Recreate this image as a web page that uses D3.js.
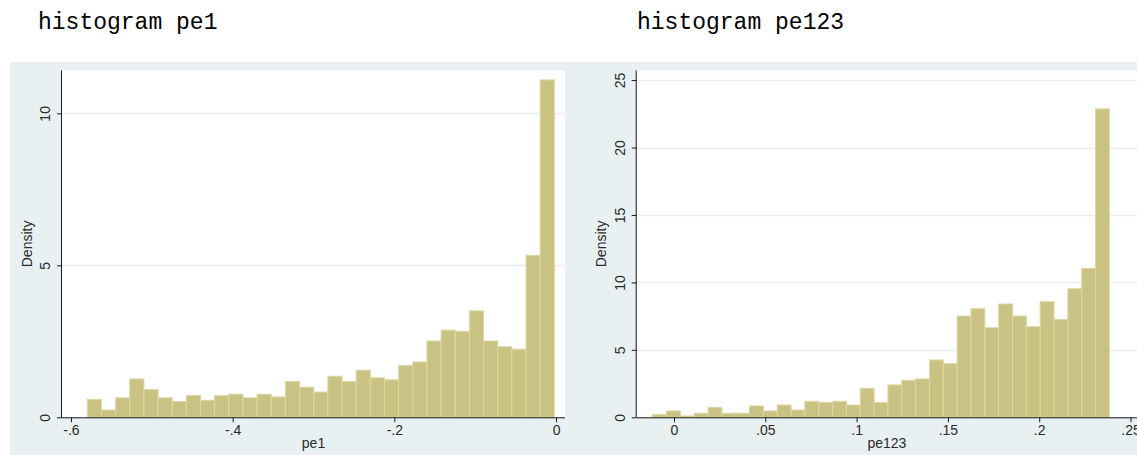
<!DOCTYPE html>
<html>
<head>
<meta charset="utf-8">
<script src="https://cdn.jsdelivr.net/npm/d3@7"></script>
<style>
  html, body { margin: 0; padding: 0; background: #ffffff; }
  svg { display: block; }
</style>
</head>
<body>
<svg id="chart" width="1137" height="455"></svg>
<script>
// ---------------- data ----------------
const titles = ["histogram pe1", "histogram pe123"];
const xTitles = ["pe1", "pe123"];
const yTitle = "Density";

// left histogram (pe1)
const pe1BinStart = -0.5798;
const pe1BinWidth = 0.017506;
const pe1Density = [0.59, 0.24, 0.64, 1.26, 0.91, 0.64, 0.52, 0.72, 0.56, 0.71,
                    0.76, 0.64, 0.76, 0.67, 1.18, 0.99, 0.83, 1.35, 1.18, 1.55,
                    1.30, 1.23, 1.70, 1.82, 2.51, 2.87, 2.83, 3.50, 2.51, 2.32,
                    2.24, 5.33, 11.10];
const pe1XTicks = [-0.6, -0.4, -0.2, 0];
const pe1XTickLabels = ["-.6", "-.4", "-.2", "0"];
const pe1YTicks = [0, 5, 10];
const pe1YTickLabels = ["0", "5", "10"];

// right histogram (pe123)
const pe123BinStart = -0.01166;
const pe123BinWidth = 0.007578;
const pe123Density = [0.20, 0.47, 0.10, 0.30, 0.74, 0.30, 0.30, 0.84, 0.47, 0.91,
                      0.54, 1.19, 1.11, 1.19, 0.91, 2.15, 1.09, 2.40, 2.74, 2.84,
                      4.25, 3.98, 7.51, 8.05, 6.64, 8.40, 7.51, 6.72, 8.57, 7.26,
                      9.53, 11.04, 22.86];
const pe123XTicks = [0, 0.05, 0.1, 0.15, 0.2, 0.25];
const pe123XTickLabels = ["0", ".05", ".1", ".15", ".2", ".25"];
const pe123YTicks = [0, 5, 10, 15, 20, 25];
const pe123YTickLabels = ["0", "5", "10", "15", "20", "25"];

// ---------------- style ----------------
const BG = "#e9f0f2";
const BAR = "#cac282";
const BAR_EDGE = "#dcd7a6";
const GRID = "#e6eef0";
const AXIS = "#1a1a1a";
const TEXT = "#2a2a2a";
const SANS = "'Liberation Sans', Arial, sans-serif";
const MONO = "'Liberation Mono', 'Courier New', monospace";

const svg = d3.select("#chart");

// background panels
svg.append("rect").attr("x", 10).attr("y", 62).attr("width", 560).attr("height", 393).attr("fill", BG);
svg.append("rect").attr("x", 570).attr("y", 62).attr("width", 567).attr("height", 393).attr("fill", BG);

const panels = [
  {
    title: titles[0], titleX: 38, xTitle: xTitles[0],
    left: 62, right: 565, top: 70.5, bottom: 417.3,
    xDomain: [-0.6111, 0.0111], yDomain: [0, 11.41],
    binStart: pe1BinStart, binWidth: pe1BinWidth, dens: pe1Density,
    xTicks: pe1XTicks, xLabels: pe1XTickLabels,
    yTicks: pe1YTicks, yLabels: pe1YTickLabels,
    yLabelX: 50, yTitleX: 32
  },
  {
    title: titles[1], titleX: 637, xTitle: xTitles[1],
    left: 636.7, right: 1137, top: 70.5, bottom: 417.3,
    xDomain: [-0.02042, 0.25355], yDomain: [0, 25.71],
    binStart: pe123BinStart, binWidth: pe123BinWidth, dens: pe123Density,
    xTicks: pe123XTicks, xLabels: pe123XTickLabels,
    yTicks: pe123YTicks, yLabels: pe123YTickLabels,
    yLabelX: 625, yTitleX: 606
  }
];

panels.forEach(p => {
  const x = d3.scaleLinear().domain(p.xDomain).range([p.left, p.right]);
  const y = d3.scaleLinear().domain(p.yDomain).range([p.bottom, p.top]);
  const g = svg.append("g");

  // title
  svg.append("text")
    .attr("x", p.titleX).attr("y", 29)
    .attr("font-family", MONO).attr("font-size", 23)
    .attr("fill", "#000")
    .text(p.title);

  // plot area
  g.append("rect")
    .attr("x", p.left).attr("y", p.top)
    .attr("width", p.right - p.left).attr("height", p.bottom - p.top)
    .attr("fill", "#ffffff");

  // grid
  g.selectAll(".grid").data(p.yTicks.filter(t => t > 0)).enter().append("line")
    .attr("x1", p.left).attr("x2", p.right)
    .attr("y1", d => Math.round(y(d)) + 0.5).attr("y2", d => Math.round(y(d)) + 0.5)
    .attr("stroke", GRID).attr("stroke-width", 1.5);

  // bars
  const bins = p.dens.map((v, i) => ({
    x0: p.binStart + i * p.binWidth,
    x1: p.binStart + (i + 1) * p.binWidth,
    v: v
  }));
  g.selectAll(".bar").data(bins).enter().append("rect")
    .attr("x", d => x(d.x0))
    .attr("width", d => x(d.x1) - x(d.x0))
    .attr("y", d => y(d.v))
    .attr("height", d => y(0) - y(d.v))
    .attr("fill", BAR)
    .attr("stroke", BAR_EDGE).attr("stroke-width", 1);

  // x axis
  const xAxis = d3.axisBottom(x)
    .tickValues(p.xTicks)
    .tickFormat((d, i) => p.xLabels[i])
    .tickSize(5).tickSizeOuter(0);
  const xa = svg.append("g")
    .attr("transform", `translate(0,${p.bottom})`)
    .call(xAxis);
  xa.select(".domain").attr("stroke", AXIS).attr("d", `M${p.left},0.5H${p.right}`);
  xa.selectAll(".tick line").attr("stroke", AXIS);
  xa.selectAll(".tick text")
    .attr("font-family", SANS).attr("font-size", 14).attr("fill", TEXT)
    .attr("y", 8).attr("dy", "0.71em");

  // y axis
  const yAxis = d3.axisLeft(y)
    .tickValues(p.yTicks)
    .tickFormat((d, i) => p.yLabels[i])
    .tickSize(5).tickSizeOuter(0);
  const ya = svg.append("g")
    .attr("transform", `translate(${p.left},0)`)
    .call(yAxis);
  ya.select(".domain").attr("stroke", AXIS).attr("d", `M-0.5,${p.top}V${p.bottom}`);
  ya.selectAll(".tick line").attr("stroke", AXIS);
  ya.selectAll(".tick text")
    .attr("font-family", SANS).attr("font-size", 14).attr("fill", TEXT)
    .attr("x", 0).attr("dy", 0)
    .attr("text-anchor", "middle")
    .attr("transform", `translate(${p.yLabelX - p.left},0) rotate(-90)`);

  // axis titles
  svg.append("text")
    .attr("x", (p.left + p.right) / 2).attr("y", 448)
    .attr("text-anchor", "middle")
    .attr("font-family", SANS).attr("font-size", 14).attr("fill", TEXT)
    .text(p.xTitle);
  svg.append("text")
    .attr("transform", `translate(${p.yTitleX},${(p.top + p.bottom) / 2}) rotate(-90)`)
    .attr("text-anchor", "middle")
    .attr("font-family", SANS).attr("font-size", 14).attr("fill", TEXT)
    .text(yTitle);
});
</script>
</body>
</html>
